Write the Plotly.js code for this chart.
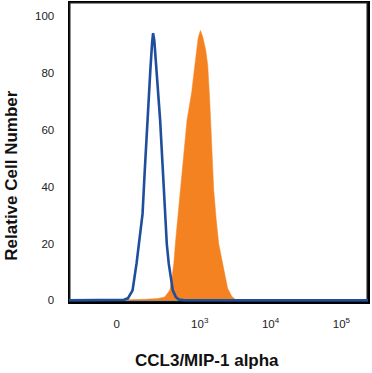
<!DOCTYPE html>
<html>
<head>
<meta charset="utf-8">
<script src="https://cdn.plot.ly/plotly-3.0.1.min.js"></script>
<style>
  html, body { margin: 0; padding: 0; background: #ffffff; }
  #chart { width: 372px; height: 373px; }
</style>
</head>
<body>
<div id="chart"></div>
<script>
// X positions are in logicle display units (decades): 3 = 10^3, 4 = 10^4, 5 = 10^5
// Isotype control (blue outline)
const isotypeX = [1.155, 1.873, 1.930, 1.986, 2.021, 2.052, 2.108, 2.148, 2.193, 2.225, 2.261, 2.303, 2.328, 2.342, 2.359, 2.390, 2.441, 2.479, 2.507, 2.535, 2.563, 2.620, 2.662, 2.704, 2.789, 5.380];
const isotypeY = [0, 0, 0.2, 0.7, 2.1, 3.5, 12.9, 21.6, 30.4, 46, 63.5, 81, 90.7, 94, 91.4, 80.3, 63.5, 46, 30.4, 19.9, 12.9, 3.5, 1.2, 0.3, 0, 0];

// CCL3/MIP-1 alpha stained (orange filled)
const stainedX = [1.155, 1.950, 1.986, 2.225, 2.408, 2.507, 2.577, 2.606, 2.634, 2.662, 2.694, 2.732, 2.775, 2.821, 2.845, 2.887, 2.923, 2.951, 2.979, 3.010, 3.042, 3.085, 3.113, 3.141, 3.169, 3.197, 3.232, 3.268, 3.324, 3.394, 3.451, 3.507, 3.634, 5.380];
const stainedY = [0, 0, 0.2, 0.35, 0.6, 1.2, 3.5, 7.7, 12.9, 21.6, 30.4, 39, 51.3, 63.5, 67, 73.3, 81, 87.9, 92.5, 95, 92.8, 88, 82.7, 70.5, 53, 39, 28.6, 19.9, 12.9, 4.2, 1.4, 0.2, 0, 0];

// Axis ticks
const xTickVals = [1.827, 3, 4, 5];
const xTickText = ['0', '10<sup>3</sup>', '10<sup>4</sup>', '10<sup>5</sup>'];
const xMinorVals = [1.207, 1.268, 1.423, 1.451, 1.479, 1.521, 1.549, 1.577, 1.606, 1.634, 1.690, 1.718, 1.746, 1.775, 1.859, 1.887, 1.944, 1.972,
  2.254, 2.394, 2.535, 2.620, 2.718, 2.789, 2.859, 2.930,
  3.301, 3.477, 3.602, 3.699, 3.778, 3.845, 3.903, 3.954,
  4.301, 4.477, 4.602, 4.699, 4.778, 4.845, 4.903, 4.954,
  5.301];
const yTickVals = [0, 20, 40, 60, 80, 100];
const yMinorVals = [5, 10, 15, 25, 30, 35, 45, 50, 55, 65, 70, 75, 85, 90, 95];

const xTitle = 'CCL3/MIP-1 alpha';
const yTitle = 'Relative Cell Number';

const xRange = [1.155, 5.375];
const yRange = [-0.6, 105];

const W = 372, H = 373;
const M = { l: 69, r: 4, t: 2, b: 71 };
const pxX = (W - M.l - M.r) / (xRange[1] - xRange[0]);   // px per x unit
const pxY = (H - M.t - M.b) / (yRange[1] - yRange[0]);   // px per y unit

const tickFont = { family: 'Liberation Sans, Arial, sans-serif', size: 11.5, color: '#222' };
const titleFont = { family: 'Liberation Sans, Arial, sans-serif', size: 17, color: '#111' };

// tick marks drawn as line-symbol markers just outside the axes
function xTicks(vals, len, width) {
  return { x: vals, y: vals.map(() => yRange[0] - (len / 2) / pxY), type: 'scatter', mode: 'markers',
    cliponaxis: false, hoverinfo: 'skip',
    marker: { symbol: 'line-ns', size: len, color: '#000', line: { color: '#000', width: width } } };
}
function yTicks(vals, len, width) {
  return { x: vals.map(() => xRange[0] - (len / 2) / pxX), y: vals, type: 'scatter', mode: 'markers',
    cliponaxis: false, hoverinfo: 'skip',
    marker: { symbol: 'line-ew', size: len, color: '#000', line: { color: '#000', width: width } } };
}

const traces = [
  {
    // plot frame along the axis range
    x: [xRange[0], xRange[1], xRange[1], xRange[0], xRange[0]],
    y: [yRange[0], yRange[0], yRange[1], yRange[1], yRange[0]],
    type: 'scatter', mode: 'lines', hoverinfo: 'skip',
    line: { color: '#1a1a1a', width: 3 }
  },
  {
    x: stainedX, y: stainedY, type: 'scatter', mode: 'lines',
    fill: 'tozeroy', fillcolor: '#F58220',
    line: { color: '#F58220', width: 0.5 }, hoverinfo: 'skip'
  },
  {
    x: isotypeX, y: isotypeY, type: 'scatter', mode: 'lines',
    line: { color: '#1F4E9C', width: 2.6 }, hoverinfo: 'skip'
  },
  xTicks(xTickVals, 6, 3),
  xTicks(xMinorVals, 4, 1.6),
  yTicks(yTickVals, 8, 3),
  yTicks(yMinorVals, 4, 1.6)
];

const layout = {
  width: W, height: H,
  margin: M,
  paper_bgcolor: '#ffffff', plot_bgcolor: '#ffffff',
  showlegend: false,
  xaxis: {
    range: xRange,
    showgrid: false, zeroline: false,
    showline: true, linecolor: '#000', linewidth: 1.5, mirror: true,
    tickmode: 'array', tickvals: xTickVals, ticktext: xTickText,
    ticks: 'outside', ticklen: 11, tickwidth: 1, tickcolor: 'rgba(0,0,0,0)',
    tickfont: tickFont
  },
  yaxis: {
    range: yRange,
    showgrid: false, zeroline: false,
    showline: true, linecolor: '#000', linewidth: 1.5, mirror: true,
    tickmode: 'array', tickvals: yTickVals,
    ticks: 'outside', ticklen: 11, tickwidth: 1, tickcolor: 'rgba(0,0,0,0)',
    tickfont: tickFont
  },
  annotations: [
    { text: '<b>' + xTitle + '</b>', xref: 'paper', yref: 'paper', x: 0.463, y: -0.196,
      xanchor: 'center', yanchor: 'middle', showarrow: false, font: titleFont },
    { text: '<b>' + yTitle + '</b>', xref: 'paper', yref: 'paper', x: -0.193, y: 0.422,
      xanchor: 'center', yanchor: 'middle', textangle: -90, showarrow: false, font: titleFont }
  ]
};

Plotly.newPlot('chart', traces, layout, { staticPlot: true });
</script>
</body>
</html>
